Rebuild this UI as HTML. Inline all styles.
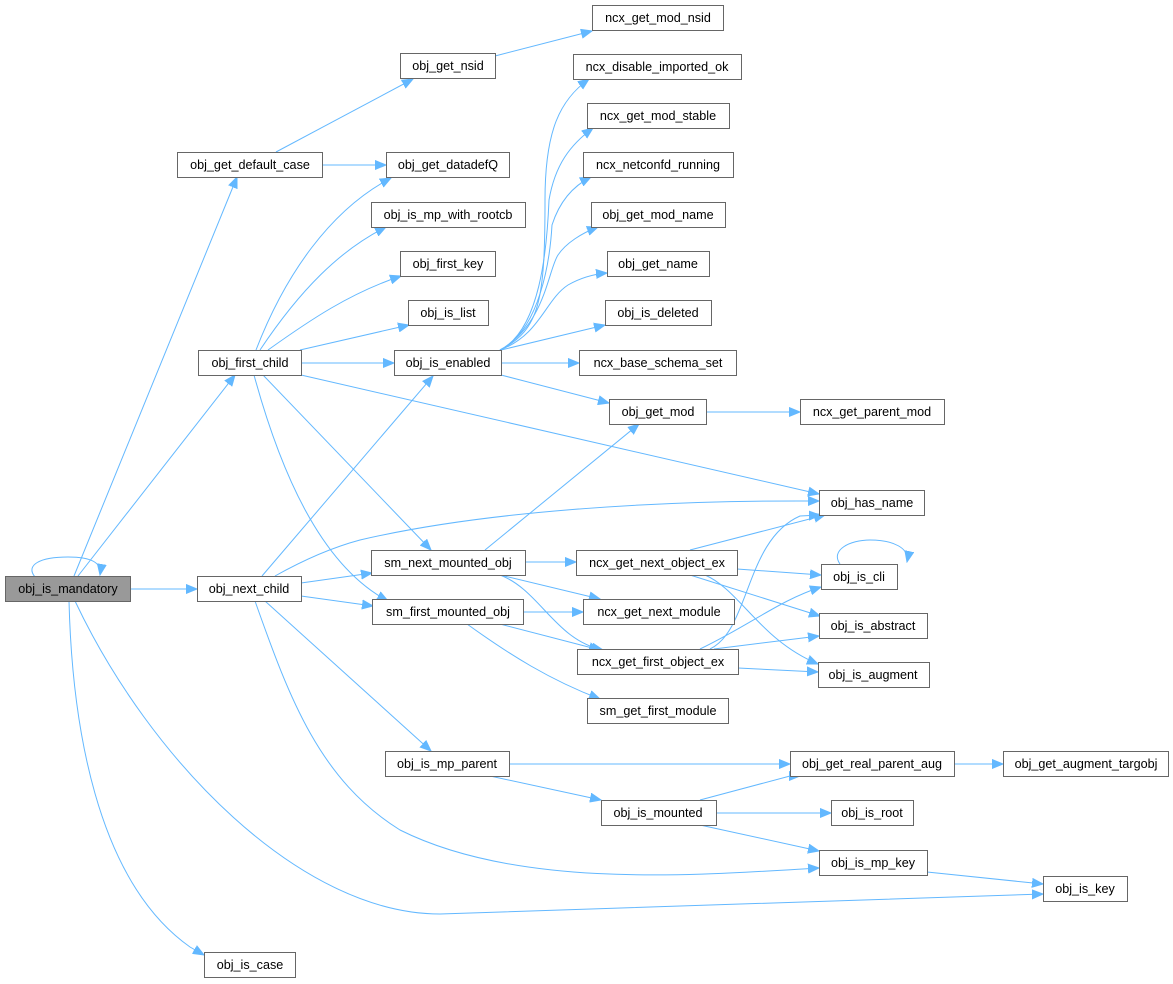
<!DOCTYPE html>
<html><head><meta charset="utf-8"><style>
html,body{margin:0;padding:0;background:#fff;}
svg{display:block;}
text{font-family:"Liberation Sans",sans-serif;font-size:12.6px;fill:#000;}
.b{fill:#fff;stroke:#666;stroke-width:1;}
.e{fill:none;stroke:#63b8ff;stroke-width:1;}
</style></head><body>
<svg width="1173" height="984" viewBox="0 0 1173 984" xmlns="http://www.w3.org/2000/svg">
<defs>
<marker id="a" markerUnits="userSpaceOnUse" markerWidth="12" markerHeight="10" refX="11" refY="5" orient="auto">
<path d="M0,0.5 L11,5 L0,9.5 Z" fill="#63b8ff" stroke="#63b8ff"/>
</marker>
</defs>
<g class="e" marker-end="url(#a)">
<path d="M35,577 C25,565 40,557 68,557 C92,557 102,563 100,575"/>
<path d="M74,576 L237,177"/>
<path d="M78,576 L235,375"/>
<path d="M130,589 L197,589"/>
<path d="M69,601 C72,720 95,880 190,947 L204,955"/>
<path d="M75,601 C150,760 300,914 440,914 L1043,894"/>
<path d="M276,152 L413,79"/>
<path d="M322,165 L386,165"/>
<path d="M495,56 L592,31"/>
<path d="M256,350 C285,275 330,210 391,178"/>
<path d="M260,350 C300,290 340,250 386,227"/>
<path d="M268,350 C310,320 350,293 401,276"/>
<path d="M300,350 L409,325"/>
<path d="M301,363 L394,363"/>
<path d="M301,375 L819,494"/>
<path d="M263,375 L431,550"/>
<path d="M254,375 C280,470 320,565 388,601"/>
<path d="M262,576 L433,376"/>
<path d="M275,576 C300,562 330,548 360,540 C480,512 650,500 819,501"/>
<path d="M301,583 L372,573"/>
<path d="M301,596 L373,606"/>
<path d="M265,601 L431,751"/>
<path d="M255,601 C290,700 320,780 400,830 C520,890 700,875 819,868"/>
<path d="M500,350 C540,330 545,300 545,200 C545,130 560,100 589,79"/>
<path d="M500,350 C540,330 547,250 549,200 C555,165 570,145 593,128"/>
<path d="M500,350 C540,330 550,260 552,225 C560,200 575,185 591,177"/>
<path d="M500,350 C545,325 548,270 558,255 C566,243 582,233 598,227"/>
<path d="M500,350 C540,335 545,300 568,285 C582,277 595,274 607,273"/>
<path d="M501,350 L605,325"/>
<path d="M501,363 L579,363"/>
<path d="M501,375 L609,403"/>
<path d="M706,412 L800,412"/>
<path d="M485,550 L639,424"/>
<path d="M525,562 L576,562"/>
<path d="M500,575 L600,599"/>
<path d="M500,575 C540,590 555,640 603,650"/>
<path d="M523,612 L583,612"/>
<path d="M500,624 L600,650"/>
<path d="M467,624 C510,655 550,680 600,699"/>
<path d="M690,550 L825,515"/>
<path d="M737,569 L821,575"/>
<path d="M690,575 L820,616"/>
<path d="M705,575 C740,590 760,640 818,664"/>
<path d="M710,649 C750,630 745,540 800,516 L820,515"/>
<path d="M700,649 C750,625 780,600 821,587"/>
<path d="M714,649 L819,636"/>
<path d="M738,668 L818,672"/>
<path d="M840,564 C830,550 850,540 870,540 C893,540 910,548 907,562"/>
<path d="M509,764 L790,764"/>
<path d="M490,776 L601,800"/>
<path d="M954,764 L1003,764"/>
<path d="M700,800 L790,776 L800,776"/>
<path d="M716,813 L831,813"/>
<path d="M700,825 L819,851"/>
<path d="M927,872 L1043,884"/>
</g>
<g>
<rect x="5.5" y="576.5" width="125" height="25" fill="#999" stroke="#666"/><text x="68" y="593" text-anchor="middle">obj_is_mandatory</text>
<rect class="b" x="177.5" y="152.5" width="145" height="25"/><text x="250" y="169" text-anchor="middle">obj_get_default_case</text>
<rect class="b" x="400.5" y="53.5" width="95" height="25"/><text x="448" y="70" text-anchor="middle">obj_get_nsid</text>
<rect class="b" x="592.5" y="5.5" width="131" height="25"/><text x="658" y="22" text-anchor="middle">ncx_get_mod_nsid</text>
<rect class="b" x="573.5" y="54.5" width="168" height="25"/><text x="657" y="71" text-anchor="middle">ncx_disable_imported_ok</text>
<rect class="b" x="386.5" y="152.5" width="123" height="25"/><text x="448" y="169" text-anchor="middle">obj_get_datadefQ</text>
<rect class="b" x="587.5" y="103.5" width="142" height="25"/><text x="658" y="120" text-anchor="middle">ncx_get_mod_stable</text>
<rect class="b" x="371.5" y="202.5" width="154" height="25"/><text x="448" y="219" text-anchor="middle">obj_is_mp_with_rootcb</text>
<rect class="b" x="583.5" y="152.5" width="150" height="25"/><text x="658" y="169" text-anchor="middle">ncx_netconfd_running</text>
<rect class="b" x="400.5" y="251.5" width="95" height="25"/><text x="448" y="268" text-anchor="middle">obj_first_key</text>
<rect class="b" x="591.5" y="202.5" width="134" height="25"/><text x="658" y="219" text-anchor="middle">obj_get_mod_name</text>
<rect class="b" x="408.5" y="300.5" width="80" height="25"/><text x="448" y="317" text-anchor="middle">obj_is_list</text>
<rect class="b" x="607.5" y="251.5" width="102" height="25"/><text x="658" y="268" text-anchor="middle">obj_get_name</text>
<rect class="b" x="198.5" y="350.5" width="103" height="25"/><text x="250" y="367" text-anchor="middle">obj_first_child</text>
<rect class="b" x="394.5" y="350.5" width="107" height="25"/><text x="448" y="367" text-anchor="middle">obj_is_enabled</text>
<rect class="b" x="605.5" y="300.5" width="106" height="25"/><text x="658" y="317" text-anchor="middle">obj_is_deleted</text>
<rect class="b" x="579.5" y="350.5" width="157" height="25"/><text x="658" y="367" text-anchor="middle">ncx_base_schema_set</text>
<rect class="b" x="609.5" y="399.5" width="97" height="25"/><text x="658" y="416" text-anchor="middle">obj_get_mod</text>
<rect class="b" x="800.5" y="399.5" width="144" height="25"/><text x="872" y="416" text-anchor="middle">ncx_get_parent_mod</text>
<rect class="b" x="819.5" y="490.5" width="105" height="25"/><text x="872" y="507" text-anchor="middle">obj_has_name</text>
<rect class="b" x="371.5" y="550.5" width="154" height="25"/><text x="448" y="567" text-anchor="middle">sm_next_mounted_obj</text>
<rect class="b" x="576.5" y="550.5" width="161" height="25"/><text x="657" y="567" text-anchor="middle">ncx_get_next_object_ex</text>
<rect class="b" x="821.5" y="564.5" width="76" height="25"/><text x="859" y="581" text-anchor="middle">obj_is_cli</text>
<rect class="b" x="197.5" y="576.5" width="104" height="25"/><text x="249" y="593" text-anchor="middle">obj_next_child</text>
<rect class="b" x="372.5" y="599.5" width="151" height="25"/><text x="448" y="616" text-anchor="middle">sm_first_mounted_obj</text>
<rect class="b" x="583.5" y="599.5" width="151" height="25"/><text x="659" y="616" text-anchor="middle">ncx_get_next_module</text>
<rect class="b" x="819.5" y="613.5" width="108" height="25"/><text x="873" y="630" text-anchor="middle">obj_is_abstract</text>
<rect class="b" x="577.5" y="649.5" width="161" height="25"/><text x="658" y="666" text-anchor="middle">ncx_get_first_object_ex</text>
<rect class="b" x="818.5" y="662.5" width="111" height="25"/><text x="873" y="679" text-anchor="middle">obj_is_augment</text>
<rect class="b" x="587.5" y="698.5" width="141" height="25"/><text x="658" y="715" text-anchor="middle">sm_get_first_module</text>
<rect class="b" x="385.5" y="751.5" width="124" height="25"/><text x="447" y="768" text-anchor="middle">obj_is_mp_parent</text>
<rect class="b" x="790.5" y="751.5" width="164" height="25"/><text x="872" y="768" text-anchor="middle">obj_get_real_parent_aug</text>
<rect class="b" x="1003.5" y="751.5" width="165" height="25"/><text x="1086" y="768" text-anchor="middle">obj_get_augment_targobj</text>
<rect class="b" x="601.5" y="800.5" width="115" height="25"/><text x="658" y="817" text-anchor="middle">obj_is_mounted</text>
<rect class="b" x="831.5" y="800.5" width="82" height="25"/><text x="872" y="817" text-anchor="middle">obj_is_root</text>
<rect class="b" x="819.5" y="850.5" width="108" height="25"/><text x="873" y="867" text-anchor="middle">obj_is_mp_key</text>
<rect class="b" x="1043.5" y="876.5" width="84" height="25"/><text x="1085" y="893" text-anchor="middle">obj_is_key</text>
<rect class="b" x="204.5" y="952.5" width="91" height="25"/><text x="250" y="969" text-anchor="middle">obj_is_case</text>
</g>
</svg>
</body></html>
